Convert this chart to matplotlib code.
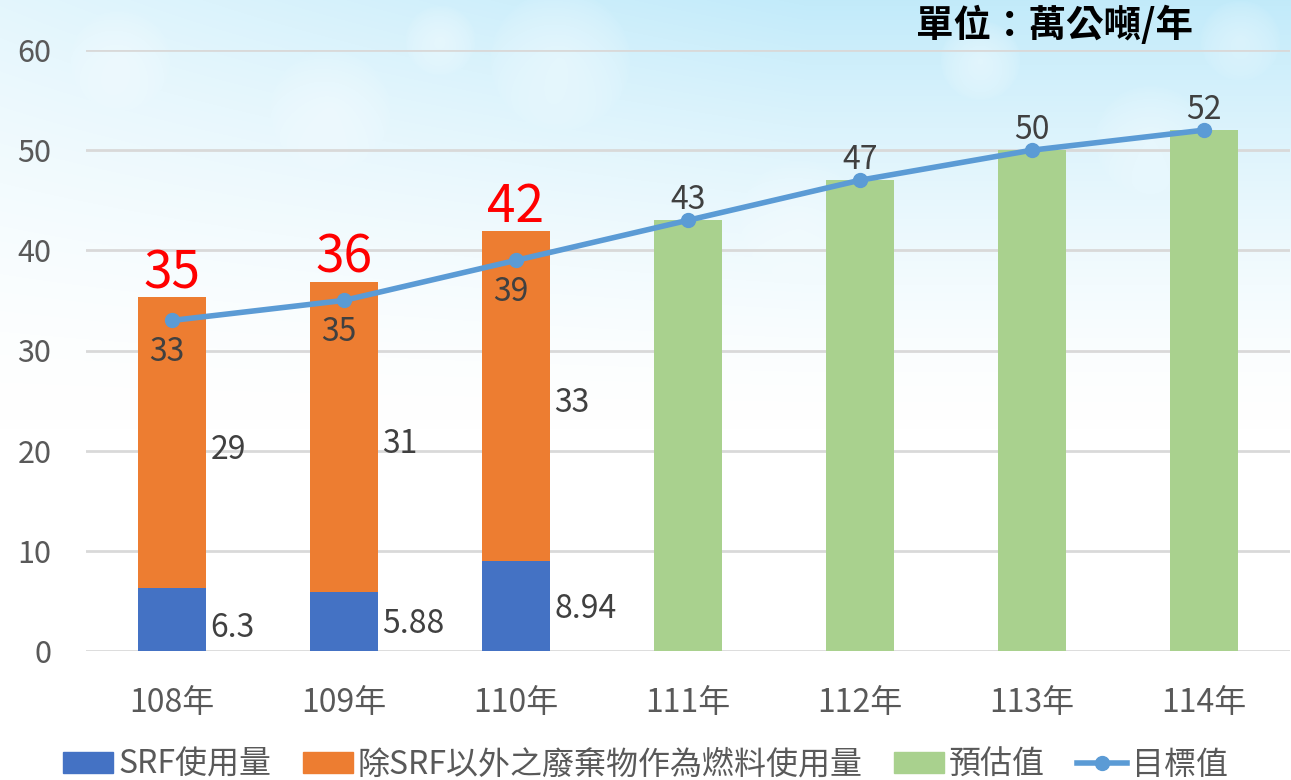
import numpy as np
import matplotlib
matplotlib.use("Agg")
import matplotlib.pyplot as plt
from matplotlib.lines import Line2D
from matplotlib.patches import Patch

plt.rcParams['font.family'] = ['Noto Sans CJK TC', 'DejaVu Sans']

years = ["108年", "109年", "110年", "111年", "112年", "113年", "114年"]
srf = [6.3, 5.88, 8.94]
other = [29, 31, 33]
totals = [35, 36, 42]
forecast = [43, 47, 50, 52]
target = [33, 35, 39, 43, 47, 50, 52]
srf_labels = ["6.3", "5.88", "8.94"]

C_BLUE = "#4472C4"
C_ORANGE = "#ED7D31"
C_GREEN = "#A9D18E"
C_LINE = "#5B9BD5"
C_TEXT = "#404040"
C_TICK = "#595959"

W, H = 1291, 780
fig = plt.figure(figsize=(W / 100, H / 100), dpi=100)

# background gradient
bg = fig.add_axes([0, 0, 1, 1], zorder=0)
yy, xx = np.mgrid[0:H, 0:W]
yf = yy / H
xf = xx / W
w = np.clip(1.0 - yf / 0.55, 0, 1) ** 1.5
w = w * (0.45 + 0.55 * np.clip(xf * 1.6, 0, 1))
cyan = np.array([0.76, 0.92, 0.98])
white = np.array([1.0, 1.0, 1.0])
img = white[None, None, :] * (1 - w[..., None]) + cyan[None, None, :] * w[..., None]
for cx, cy, r, a in [(560, 60, 70, 0.35), (330, 110, 60, 0.3), (980, 60, 40, 0.4),
                     (1150, 140, 55, 0.3), (120, 60, 50, 0.3), (800, 220, 60, 0.25),
                     (440, 40, 35, 0.35), (1240, 40, 40, 0.3)]:
    d = np.sqrt((xx - cx) ** 2 + (yy - cy) ** 2)
    m = np.clip(1 - d / r, 0, 1) ** 0.6 * a
    img = img * (1 - m[..., None]) + white[None, None, :] * m[..., None]
bg.imshow(img, aspect="auto", extent=[0, 1, 0, 1])
bg.axis("off")

ax = fig.add_axes([86 / W, (H - 651) / H, (1290 - 86) / W, (651 - 50) / H], zorder=1)
ax.patch.set_alpha(0)

x = np.arange(len(years))
bw = 0.4
xa = x[:3]
xf_ = x[3:]
ax.bar(xa, srf, bw, color=C_BLUE, zorder=3)
ax.bar(xa, other, bw, bottom=srf, color=C_ORANGE, zorder=3)
ax.bar(xf_, forecast, bw, color=C_GREEN, zorder=3)
ax.plot(x, target, color=C_LINE, lw=4, marker="o", ms=10, zorder=4)

ax.set_xlim(-0.5, 6.5)
ax.set_ylim(0, 60)
ax.set_yticks(range(0, 61, 10))
ax.yaxis.grid(True, color="#d9d9d9", lw=2, zorder=0)
ax.set_axisbelow(True)
for s in ax.spines.values():
    s.set_visible(False)
ax.tick_params(length=0)
ax.tick_params(axis="y", labelsize=22, labelcolor=C_TICK, pad=25)
ax.tick_params(axis="x", labelsize=23, labelcolor=C_TICK, pad=26)
ax.set_xticks(x)
ax.set_xticklabels(years)

# data labels
srf_dy = [-6, -2, -2]
for i in range(3):
    ax.annotate(srf_labels[i], (xa[i] + bw / 2, srf[i] / 2), xytext=(3, srf_dy[i]),
                textcoords="offset points", ha="left", va="center",
                fontsize=23, color=C_TEXT, zorder=5)
    ax.annotate(str(other[i]), (xa[i] + bw / 2, srf[i] + other[i] / 2), xytext=(3, -5),
                textcoords="offset points", ha="left", va="center",
                fontsize=23, color=C_TEXT, zorder=5)
    ax.annotate(str(totals[i]), (xa[i], srf[i] + other[i]), xytext=(0, -2),
                textcoords="offset points", ha="center", va="bottom",
                fontsize=37, color="#FF0000", zorder=5)
for i, v in enumerate(target):
    if i < 3:
        ax.annotate(str(v), (x[i], v), xytext=(-4, -11), textcoords="offset points",
                    ha="center", va="top", fontsize=23, color=C_TEXT, zorder=5)
    else:
        ax.annotate(str(v), (x[i], v), xytext=(0, 3), textcoords="offset points",
                    ha="center", va="bottom", fontsize=23, color=C_TEXT, zorder=5)

fig.text(1193 / W, 1 - 25 / H, "單位：萬公噸/年", ha="right", va="center",
         fontsize=27, fontweight="bold", color="#000000", zorder=5)

handles = [Patch(color=C_BLUE), Patch(color=C_ORANGE), Patch(color=C_GREEN),
           Line2D([0], [0], color=C_LINE, lw=4, marker="o", ms=10)]
labels = ["SRF使用量", "除SRF以外之廢棄物作為燃料使用量", "預估值", "目標值"]
leg = fig.legend(handles, labels, loc="center", bbox_to_anchor=(0.5, 1 - 765 / H),
                 ncol=4, frameon=False, fontsize=23, handlelength=1.56, handleheight=0.63,
                 handletextpad=0.15, columnspacing=1.0, labelcolor=C_TICK)

fig.savefig("out.png", dpi=100)
